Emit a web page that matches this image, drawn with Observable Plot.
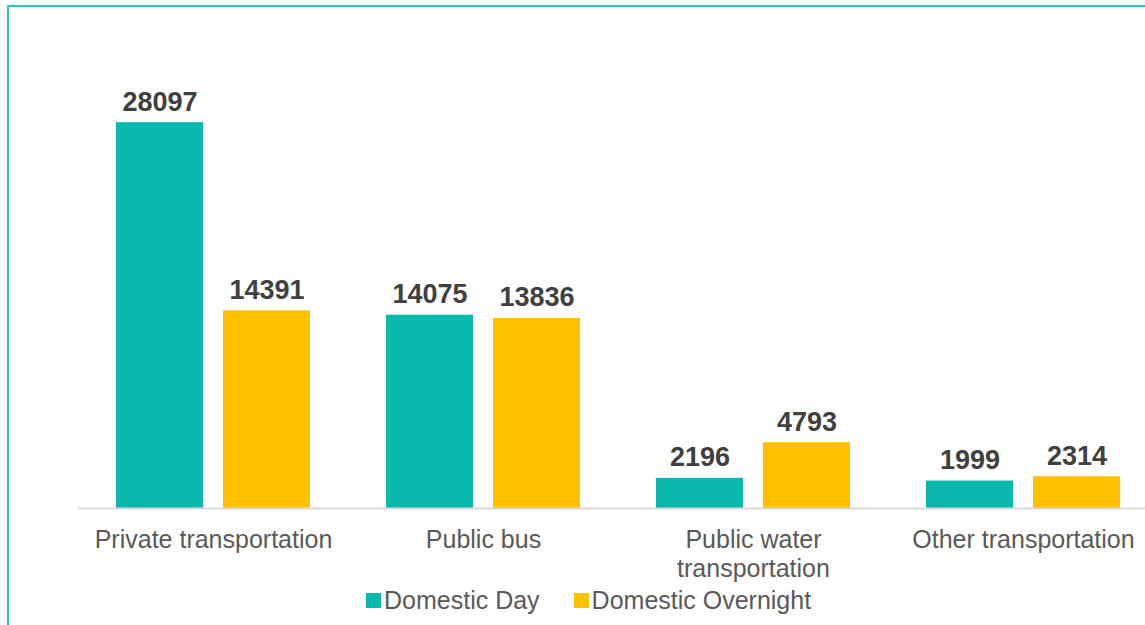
<!DOCTYPE html>
<html>
<head>
<meta charset="utf-8">
<script src="https://cdn.jsdelivr.net/npm/d3@7"></script>
<script src="https://cdn.jsdelivr.net/npm/@observablehq/plot@0.6"></script>
<style>
  html, body { margin: 0; padding: 0; background: #fff; overflow: hidden; width: 1145px; height: 625px; }
  #frame { position: absolute; left: 7px; top: 5px; width: 1200px; height: 700px;
           border-top: 2px solid #2ac6bd; border-left: 2px solid #2ac6bd; box-sizing: border-box; }
  #chart { position: absolute; left: 0; top: 0; width: 1160px; }
  #chart svg { max-width: none !important; }
  #legend { position: absolute; left: 366px; top: 584px; width: 700px; }
  .lg-swatch { margin-right: 34px !important; }
  .lg-swatch > svg { margin-right: 3px !important; }
</style>
</head>
<body>
<div id="frame"></div>
<div id="chart"></div>
<div id="legend"></div>
<script>
const categories = ["Private transportation", "Public bus", "Public water transportation", "Other transportation"];
const series = ["Domestic Day", "Domestic Overnight"];
const dayValues = [28097, 14075, 2196, 1999];
const overnightValues = [14391, 13836, 4793, 2314];
const colors = ["#0bb8ae", "#ffc000"];
const tickLabels = ["Private transportation", "Public bus", "Public water\ntransportation", "Other transportation"];

const data = [];
categories.forEach((c, i) => {
  data.push({cat: c, series: series[0], value: dayValues[i]});
  data.push({cat: c, series: series[1], value: overnightValues[i]});
});

const font = "'Liberation Sans', Arial, Helvetica, sans-serif";

const chart = Plot.plot({
  width: 1160,
  height: 580,
  marginLeft: 78,
  marginRight: 2,
  marginTop: 96,
  marginBottom: 72,
  style: {fontFamily: font, background: "transparent", overflow: "visible", maxWidth: "none"},
  fx: {domain: categories, padding: 0, label: null},
  x: {domain: series, paddingInner: 0.185, paddingOuter: 0.3426, axis: null},
  y: {domain: [0, 30000], axis: null},
  color: {domain: series, range: colors},
  marks: [
    Plot.barY(data, {fx: "cat", x: "series", y: "value", fill: "series"}),
    Plot.ruleY([0], {stroke: "#d9d9d9", strokeWidth: 2}),
    Plot.text(data, {
      fx: "cat", x: "series", y: "value", text: d => String(d.value),
      lineAnchor: "bottom", dy: -12, fontSize: 27, fontWeight: "bold", fill: "#404040"
    }),
    Plot.axisFx({
      anchor: "bottom", tickSize: 0, tickPadding: 19, fontSize: 25, lineHeight: 1.16,
      fill: "#595959", label: null,
      tickFormat: d => tickLabels[categories.indexOf(d)]
    })
  ]
});
document.getElementById("chart").appendChild(chart);

const legend = Plot.legend({
  color: {type: "ordinal", domain: series, range: colors},
  swatchSize: 15,
  className: "lg",
  style: {fontFamily: font, fontSize: "25px", color: "#595959"}
});
document.getElementById("legend").appendChild(legend);
</script>
</body>
</html>
